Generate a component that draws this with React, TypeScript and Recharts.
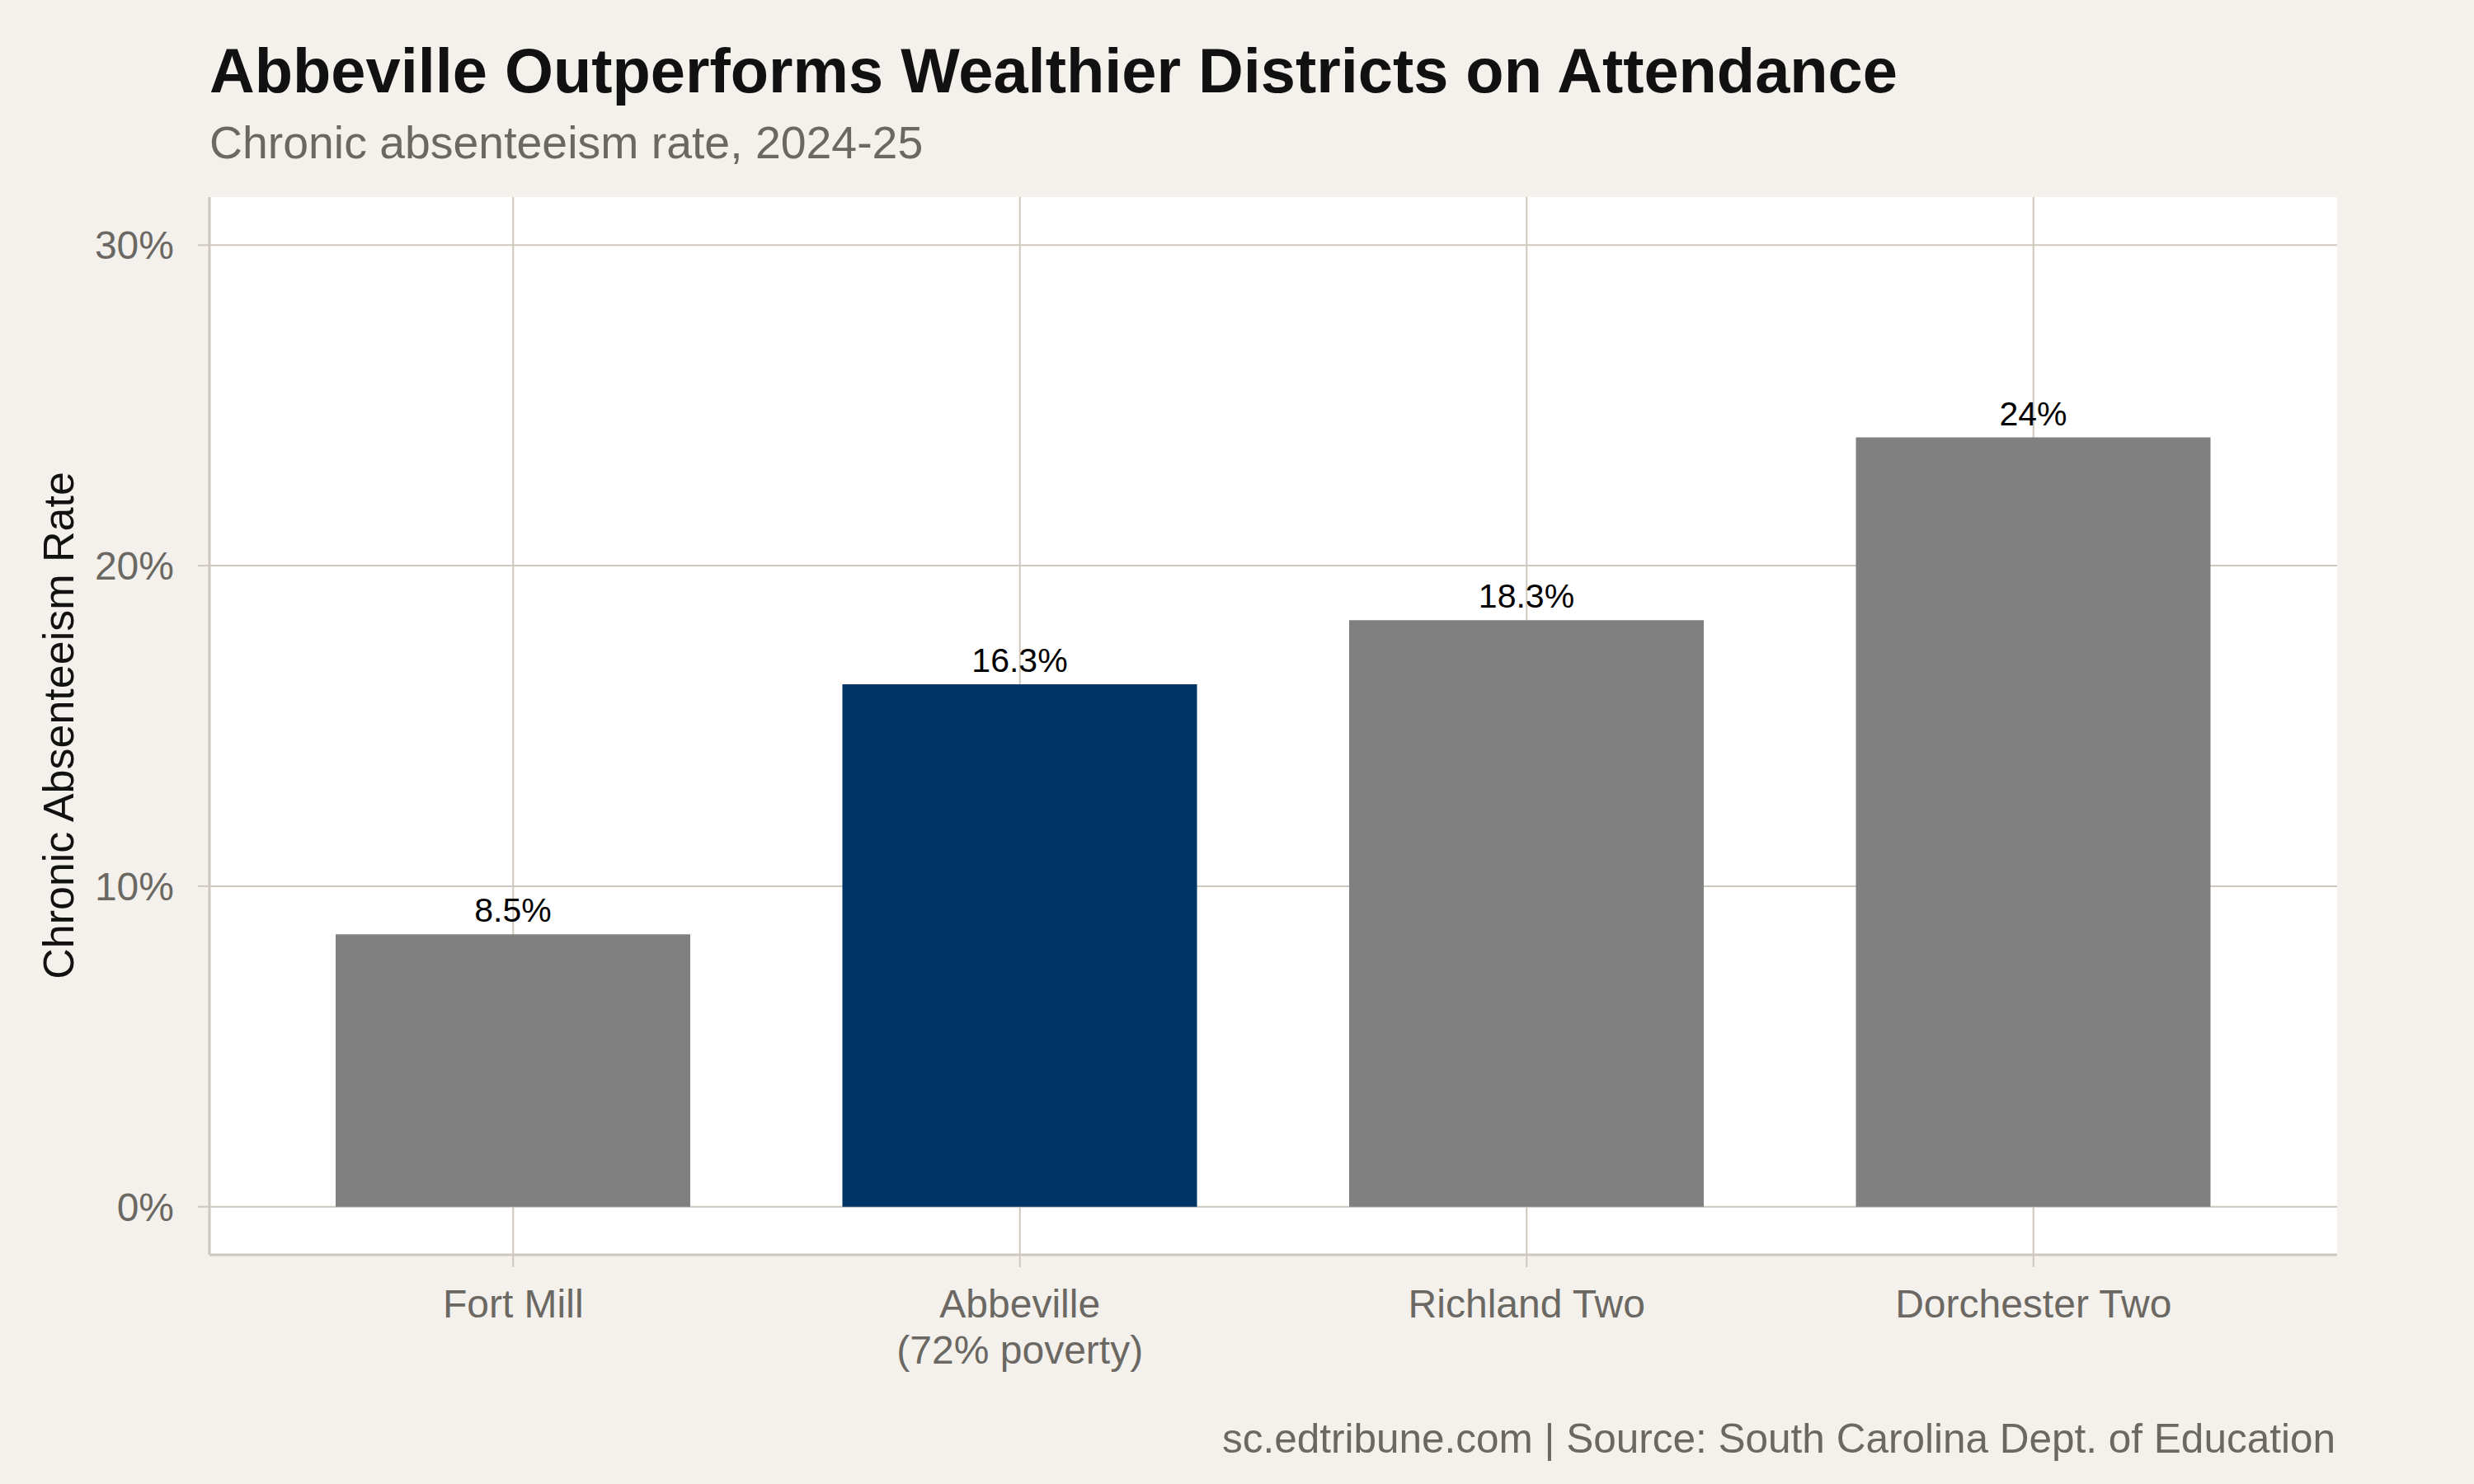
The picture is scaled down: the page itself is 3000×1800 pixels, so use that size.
import React from 'react';
import {
  BarChart,
  Bar,
  XAxis,
  YAxis,
  CartesianGrid,
  Cell,
  LabelList,
} from 'recharts';

const districts = ['Fort Mill', 'Abbeville\n(72% poverty)', 'Richland Two', 'Dorchester Two'];
const rates = [8.5, 16.3, 18.3, 24];
const highlighted = [false, true, false, false];
const yTicks = [0, 10, 20, 30];

const FONT = '"Liberation Sans", Arial, Helvetica, sans-serif';
const BG = '#f4f1ec';
const GRID = '#cdc7bd';
const MUTED = '#6b6863';
const GREY_BAR = '#808080';
const NAVY = '#003366';

const W = 3000;
const H = 1800;

function fmtPct(v: number): string {
  return `${v}%`;
}

function DistrictTick(props: any) {
  const { x, y, payload } = props;
  const lines = String(payload.value).split('\n');
  return (
    <text x={x} y={y} textAnchor="middle" fill={MUTED} fontSize={48} fontFamily={FONT}>
      {lines.map((ln, i) => (
        <tspan key={i} x={x} dy={i === 0 ? 61 : 56}>
          {ln}
        </tspan>
      ))}
    </text>
  );
}

export default function App() {
  const data = districts.map((name, i) => ({ name, rate: rates[i], hi: highlighted[i] }));

  return (
    <div style={{ position: 'relative', width: W, height: H, background: BG, fontFamily: FONT }}>
      <style>{'body{margin:0}'}</style>
      <BarChart
        width={W}
        height={H}
        data={data}
        margin={{ top: 239, right: 166, bottom: 178, left: 154 }}
      >
        <CartesianGrid
          fill="#ffffff"
          stroke={GRID}
          strokeWidth={2}
          horizontal
          vertical
          syncWithTicks
        />
        <XAxis
          dataKey="name"
          height={100}
          padding={{ left: 61, right: 61 }}
          axisLine={{ stroke: GRID, strokeWidth: 3 }}
          tickLine={{ stroke: GRID, strokeWidth: 2 }}
          tickSize={15}
          tickMargin={0}
          interval={0}
          tick={<DistrictTick />}
        />
        <YAxis
          width={100}
          domain={[-1.5, 31.5]}
          ticks={yTicks}
          tickFormatter={fmtPct}
          axisLine={{ stroke: GRID, strokeWidth: 3 }}
          tickLine={{ stroke: GRID, strokeWidth: 2 }}
          tickSize={14}
          tickMargin={29}
          tick={{ fill: MUTED, fontSize: 48, fontFamily: FONT }}
        />
        <Bar dataKey="rate" barSize={430} isAnimationActive={false}>
          {data.map((d, i) => (
            <Cell key={i} fill={d.hi ? NAVY : GREY_BAR} />
          ))}
          <LabelList
            dataKey="rate"
            position="top"
            offset={15}
            formatter={(v: any) => fmtPct(v)}
            style={{ fill: '#000', fontSize: 41, fontFamily: FONT }}
          />
        </Bar>
      </BarChart>

      <svg
        width={W}
        height={H}
        style={{ position: 'absolute', left: 0, top: 0, pointerEvents: 'none' }}
      >
        <text x={254} y={112} fontSize={75.8} fontWeight="bold" fill="#111" fontFamily={FONT}>
          Abbeville Outperforms Wealthier Districts on Attendance
        </text>
        <text x={254} y={192} fontSize={55.4} fill={MUTED} fontFamily={FONT}>
          Chronic absenteeism rate, 2024-25
        </text>
        <text
          transform="translate(89,880) rotate(-90)"
          textAnchor="middle"
          fontSize={52}
          fill="#111"
          fontFamily={FONT}
        >
          Chronic Absenteeism Rate
        </text>
        <text x={2832} y={1762} textAnchor="end" fontSize={49.5} fill={MUTED} fontFamily={FONT}>
          sc.edtribune.com | Source: South Carolina Dept. of Education
        </text>
      </svg>
    </div>
  );
}
